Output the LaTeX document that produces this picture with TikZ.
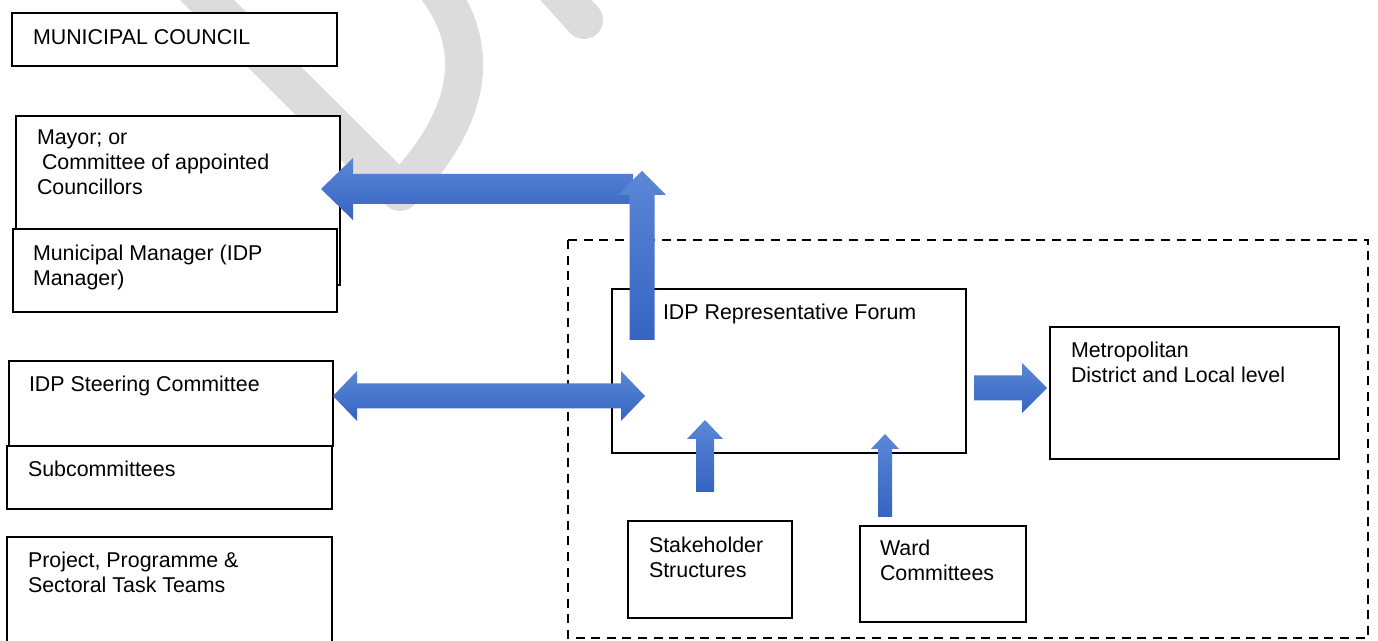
\documentclass[tikz,border=0pt]{standalone}
\usepackage{fontspec}
\setmainfont{Liberation Sans}
\usetikzlibrary{calc}
\definecolor{arrlight}{HTML}{5B87D6}
\definecolor{arrdark}{HTML}{3564C2}
\definecolor{wmgray}{HTML}{DCDCDC}
\begin{document}
\begin{tikzpicture}[x=0.5pt,y=-0.5pt,
  box/.style={draw=black, line width=1pt, fill=white, inner sep=0pt, outer sep=0pt},
  txt/.style={inner sep=0pt, outer sep=0pt, anchor=base west, align=left,
              font=\fontsize{10.7}{12.4}\selectfont},
  barrow/.style={top color=arrlight, bottom color=arrdark, draw=none},
  region/.style={draw=black, line width=1pt, dash pattern=on 4.5pt off 3.3pt},
  watermark/.style={draw=wmgray, line width=19pt, line cap=round, line join=round}
]
\useasboundingbox (0,0) rectangle (1378,641);
\clip (0,0) rectangle (1378,641);
\fill[white] (0,0) rectangle (1378,641);

% watermark
\path[watermark] (187,-20) -- (400,192) .. controls (465,125) and (490,50) .. (430,-20);
\path[watermark] (546,-22) -- (584,20);

% left column boxes (text anchors: baseline of the last line)
\node[box, minimum width=162.5pt, minimum height=26.5pt] (mc) at (174.5,39.5) {};
\node[txt] (mct) at (33,44.5) {MUNICIPAL COUNCIL};

\node[box, minimum width=162pt, minimum height=84.5pt] (mayor) at (178,200.5) {};
\node[txt] (mayort) at (37,194.5) {Mayor; or\\\hspace*{2.5pt}Committee of appointed\\Councillors};

\node[box, minimum width=162pt, minimum height=41.5pt] (mm) at (175,270.5) {};
\node[txt] (mmt) at (33,285.5) {Municipal Manager (IDP\\Manager)};

\node[box, minimum width=162pt, minimum height=42.5pt] (steer) at (171,403.5) {};
\node[txt] (steert) at (29,391.5) {IDP Steering Committee};

\node[box, minimum width=162.5pt, minimum height=31.5pt] (sub) at (169.5,477.5) {};
\node[txt] (subt) at (28,476.5) {Subcommittees};

\node[box, minimum width=162.5pt, minimum height=71.5pt] (proj) at (169.5,608.5) {};
\node[txt] (projt) at (28,592.5) {Project, Programme \&\\Sectoral Task Teams};

% dashed region
\draw[region] (568,240) rectangle (1368,638);

% right side boxes
\node[box, minimum width=177pt, minimum height=82pt] (forum) at (789,371) {};
\node[txt] (forumt) at (663,319.5) {IDP Representative Forum};

\node[box, minimum width=144.5pt, minimum height=66pt] (metro) at (1194.5,393) {};
\node[txt] (metrot) at (1071,382.5) {Metropolitan\\District and Local level};

\node[box, minimum width=82pt, minimum height=48.5pt] (stake) at (710,569.5) {};
\node[txt] (staket) at (649,577.5) {Stakeholder\\Structures};

\node[box, minimum width=83pt, minimum height=48pt] (ward) at (943,574) {};
\node[txt] (wardt) at (880,580.5) {Ward\\Committees};

% arrow end points
\coordinate (a1tip) at (321,189);
\coordinate (a1tail) at (633,189);
\coordinate (a2tip) at (642,171);
\coordinate (a2tail) at (642,340);
\coordinate (a3l) at (333,396);
\coordinate (a3r) at (645,396);
\coordinate (a4tail) at (974,388);
\coordinate (a4tip) at (1047,388);
\coordinate (a5tip) at (705,420);
\coordinate (a5tail) at (705,492);
\coordinate (a6tip) at (885,434);
\coordinate (a6tail) at (885,517);

% forum -> mayor (horizontal part)
\shade[barrow] (a1tip) -- ($(a1tip)+(32,-31)$) -- ($(a1tip)+(32,-15)$) -- ($(a1tail)+(0,-15)$)
  -- ($(a1tail)+(0,15)$) -- ($(a1tip)+(32,15)$) -- ($(a1tip)+(32,31)$) -- cycle;
% forum -> up
\shade[barrow] (a2tip) -- ($(a2tip)+(24,24)$) -- ($(a2tip)+(12.5,24)$) -- ($(a2tail)+(12.5,0)$)
  -- ($(a2tail)+(-12.5,0)$) -- ($(a2tip)+(-12.5,24)$) -- ($(a2tip)+(-24,24)$) -- cycle;
% steering <-> forum
\shade[barrow] (a3l) -- ($(a3l)+(24,-25)$) -- ($(a3l)+(24,-12.5)$) -- ($(a3r)+(-24,-12.5)$)
  -- ($(a3r)+(-24,-25)$) -- (a3r) -- ($(a3r)+(-24,25)$) -- ($(a3r)+(-24,12.5)$)
  -- ($(a3l)+(24,12.5)$) -- ($(a3l)+(24,25)$) -- cycle;
% forum -> metro
\shade[barrow] (a4tip) -- ($(a4tip)+(-25,-25)$) -- ($(a4tip)+(-25,-12.5)$) -- ($(a4tail)+(0,-12.5)$)
  -- ($(a4tail)+(0,12.5)$) -- ($(a4tip)+(-25,12.5)$) -- ($(a4tip)+(-25,25)$) -- cycle;
% stakeholder -> forum
\shade[barrow] (a5tip) -- ($(a5tip)+(18,19)$) -- ($(a5tip)+(9,19)$) -- ($(a5tail)+(9,0)$)
  -- ($(a5tail)+(-9,0)$) -- ($(a5tip)+(-9,19)$) -- ($(a5tip)+(-18,19)$) -- cycle;
% ward -> forum
\shade[barrow] (a6tip) -- ($(a6tip)+(14,15)$) -- ($(a6tip)+(7,15)$) -- ($(a6tail)+(7,0)$)
  -- ($(a6tail)+(-7,0)$) -- ($(a6tip)+(-7,15)$) -- ($(a6tip)+(-14,15)$) -- cycle;
\end{tikzpicture}
\end{document}
